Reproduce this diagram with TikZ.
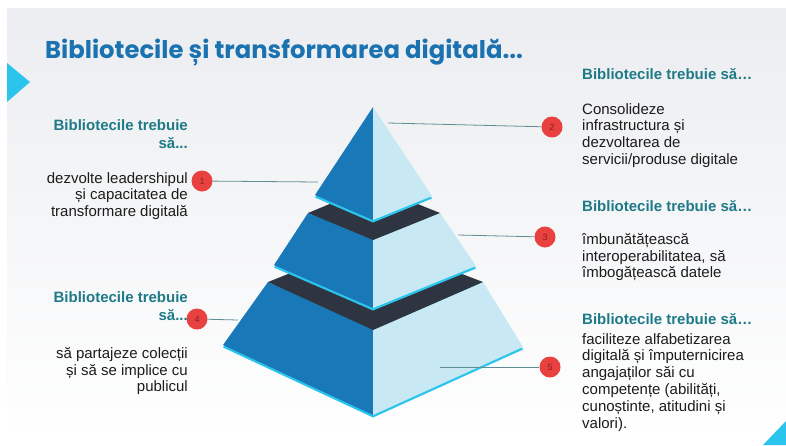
\documentclass[tikz,border=0pt]{standalone}
\usepackage{fontspec}
\setmainfont{Liberation Sans}
\newfontfamily\titlefont{Poppins}
\definecolor{bluel}{HTML}{1878B8}
\definecolor{bluer}{HTML}{C8E9F4}
\definecolor{bandc}{HTML}{2E3440}
\definecolor{cyanc}{HTML}{2BC4EC}
\definecolor{titlec}{HTML}{1B72B0}
\definecolor{headc}{HTML}{1F7A88}
\definecolor{bodyc}{HTML}{1C1C1C}
\definecolor{redc}{HTML}{E8413F}
\definecolor{numc}{HTML}{8A1E1E}
\definecolor{linec}{HTML}{5E8E94}
\definecolor{bgtop}{HTML}{EBEDF0}
\tikzset{
  badge/.style={circle, fill=redc, minimum size=21pt, inner sep=0pt,
    font=\fontsize{9}{9}\selectfont, text=numc},
  lead/.style={draw=linec, line width=0.8pt},
  titletxt/.style={inner sep=0pt, text=titlec,
    font=\titlefont\bfseries\fontsize{24.3}{28}\selectfont},
  headtxt/.style={inner sep=0pt, text=headc,
    font=\bfseries\fontsize{15}{18}\selectfont},
  bodytxt/.style={inner sep=0pt, text=bodyc,
    font=\fontsize{15}{16.8}\selectfont},
}
\begin{document}
\begin{tikzpicture}[x=1pt, y=-1pt]
      \useasboundingbox (0,0) rectangle (786,445);
      \fill[white] (0,0) rectangle (786,445);
      \shade[top color=bgtop, bottom color=white] (7,8) rectangle (786,445); % slide
      \fill[cyanc] (7,63) -- (30,82) -- (7,102) -- cycle;
      \fill[cyanc] (763,445) -- (786,421) -- (786,445) -- cycle;
      %
      \node[titletxt, anchor=base west] (title) at (45,58)
        {Bibliotecile și transformarea digitală...};
      %
      \fill[cyanc, yshift=-2.5pt] (268,282) -- (223,345) -- (373,415) -- (523,347) -- (483,282) -- cycle; % bottom tier
      \fill[bluel] (268,282) -- (373,330) -- (373,415) -- (223,345) -- cycle;
      \fill[bluer] (373,330) -- (483,282) -- (523,347) -- (373,415) -- cycle;
      \fill[bandc] (268,282) -- (373,330) -- (483,282) -- (373,240) -- cycle;
      %
      \fill[cyanc, yshift=-2.5pt] (308,213) -- (274,265) -- (373,308) -- (476,266) -- (440,213) -- cycle; % middle tier
      \fill[bluel] (308,213) -- (373,240) -- (373,308) -- (274,265) -- cycle;
      \fill[bluer] (373,240) -- (440,213) -- (476,266) -- (373,308) -- cycle;
      \fill[bandc] (308,213) -- (373,240) -- (440,213) -- (373,186) -- cycle;
      %
      \fill[cyanc, yshift=-2.5pt] (373,107) -- (315,195) -- (373,220) -- (432,196) -- cycle; % top tier
      \fill[bluel] (373,107) -- (315,195) -- (373,220) -- cycle;
      \fill[bluer] (373,107) -- (432,196) -- (373,220) -- cycle;
      %
      \coordinate (p1) at (318,182);
      \coordinate (p2) at (388,123);
      \coordinate (p3) at (458,235);
      \coordinate (p4) at (238,320);
      \coordinate (p5) at (440,367);
      %
      \node[badge] (c1) at (202,181) {1};
      \node[badge] (c2) at (552,127) {2};
      \node[badge] (c3) at (545,237) {3};
      \node[badge] (c4) at (197,319) {4};
      \node[badge] (c5) at (550,367) {5};
      %
      \draw[lead] (c1) -- (p1);
      \draw[lead] (c2) -- (p2);
      \draw[lead] (c3) -- (p3);
      \draw[lead] (c4) -- (p4);
      \draw[lead] (c5) -- (p5);
      %
      \node[headtxt, anchor=north east, align=right] (h1) at (188,119)
        {Bibliotecile trebuie\\să...};
      \node[bodytxt, anchor=north east, align=right] (b1) at (188,172)
        {dezvolte leadershipul\\și capacitatea de\\transformare digitală};
      \node[headtxt, anchor=north east, align=right] (h4) at (188,291)
        {Bibliotecile trebuie\\să...};
      \node[bodytxt, anchor=north east, align=right] (b4) at (188,347)
        {să partajeze colecții\\și să se implice cu\\publicul};
      %
      \node[headtxt, anchor=north west, align=left] (h2) at (582,68)
        {Bibliotecile trebuie să…};
      \node[bodytxt, anchor=north west, align=left] (b2) at (582,103)
        {Consolideze\\infrastructura și\\dezvoltarea de\\servicii/produse digitale};
      \node[headtxt, anchor=north west, align=left] (h3) at (582,200)
        {Bibliotecile trebuie să…};
      \node[bodytxt, anchor=north west, align=left] (b3) at (582,233)
        {îmbunătățească\\interoperabilitatea, să\\îmbogățească datele};
      \node[headtxt, anchor=north west, align=left] (h5) at (582,313)
        {Bibliotecile trebuie să…};
      \node[bodytxt, anchor=north west, align=left] (b5) at (582,333)
        {faciliteze alfabetizarea\\digitală și împuternicirea\\angajaților săi cu\\competențe (abilități,\\cunoștinte, atitudini și\\valori).};
    \end{tikzpicture}
\end{document}
